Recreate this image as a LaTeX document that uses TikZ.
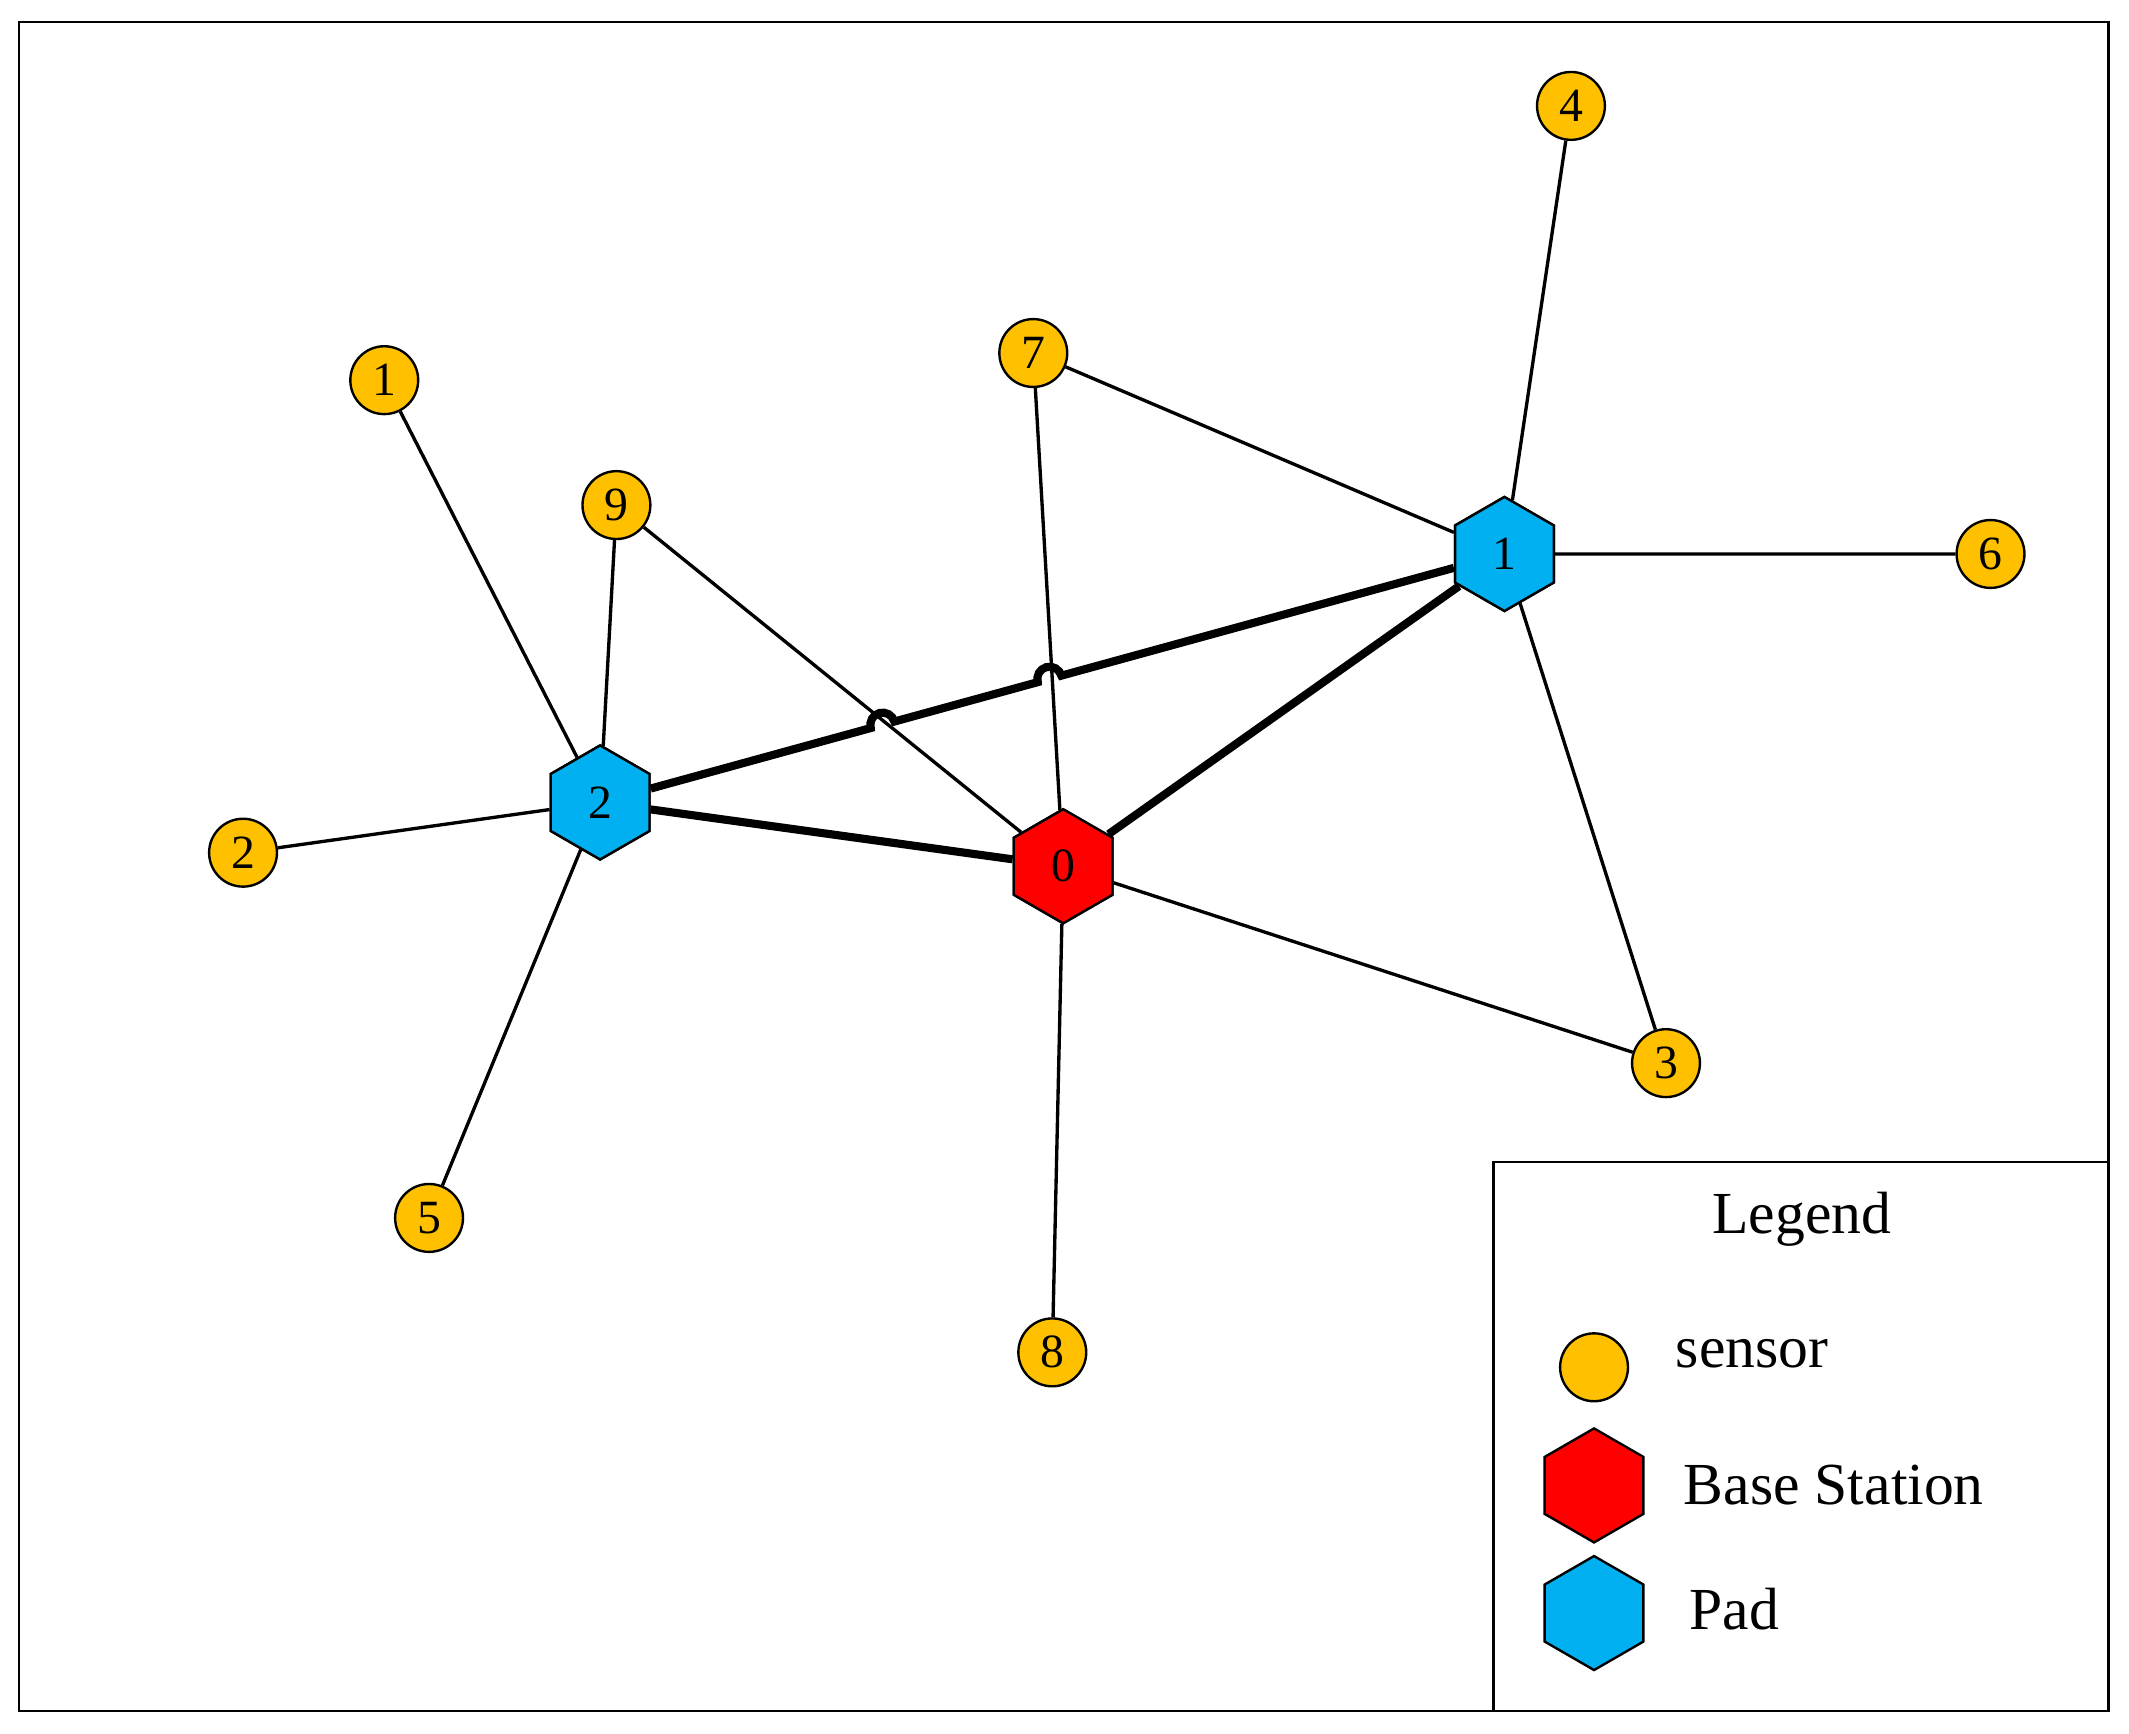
\documentclass[tikz,border=0pt]{standalone}
\usepackage{fontspec}
\setmainfont{Liberation Serif}
\usetikzlibrary{shapes.geometric}
\definecolor{sens}{HTML}{FFC000}
\definecolor{pad}{HTML}{00B0F0}
\begin{document}
\begin{tikzpicture}[x=0.02cm,y=-0.02cm,
  sensor/.style={circle,draw,fill=sens,minimum size=1cm,inner sep=0pt,line width=1pt,font=\fontsize{20}{20}\selectfont},
  hex/.style={regular polygon,regular polygon sides=6,shape border rotate=30,draw,minimum size=1.68cm,inner sep=0pt,line width=1pt,font=\fontsize{20}{20}\selectfont},
  thin/.style={line width=1.4pt},
  thick/.style={line width=3.4pt},
  lab/.style={font=\fontsize{25}{25}\selectfont,anchor=west}]
\useasboundingbox (0,0) rectangle (1568,1277);
\draw[line width=1pt] (14,16) rectangle (1553,1260);
\draw[line width=1pt] (1100,1260) -- (1100,856) -- (1553,856);
% nodes
\node[hex,fill=red] (n0) at (783,638) {0};
\node[hex,fill=pad] (n1) at (1108,408) {1};
\node[hex,fill=pad] (n2) at (442,591) {2};
\node[sensor] (s1) at (283,280) {1};
\node[sensor] (s2) at (179,628) {2};
\node[sensor] (s3) at (1227,783) {3};
\node[sensor] (s4) at (1157,78) {4};
\node[sensor] (s5) at (316,897) {5};
\node[sensor] (s6) at (1466,408) {6};
\node[sensor] (s7) at (761,260) {7};
\node[sensor] (s8) at (775,996) {8};
\node[sensor] (s9) at (454,372) {9};
% thin edges
\begin{scope}[on background layer/.style={}]
\end{scope}
\draw[thin] (n2) -- (s1);
\draw[thin] (n2) -- (s9);
\draw[thin] (n2) -- (s2);
\draw[thin] (n2) -- (s5);
\draw[thin] (s9) -- (n0);
\draw[thin] (s7) -- (n0);
\draw[thin] (s8) -- (n0);
\draw[thin] (n0) -- (s3);
\draw[thin] (n1) -- (s7);
\draw[thin] (n1) -- (s4);
\draw[thin] (n1) -- (s6);
\draw[thin] (n1) -- (s3);
% thick edges
\draw[thick] (n2) -- (n0);
\draw[thick] (n0) -- (n1);
\coordinate (h1a) at (641.3,536.2);
\coordinate (h2a) at (764.3,502.4);
\draw[thick] (n2) -- (h1a) arc[start angle=164.6,end angle=344.6,radius=9]
  -- (h2a) arc[start angle=164.6,end angle=344.6,radius=9] -- (n1);
% redraw nodes on top
\node[hex,fill=red] at (783,638) {0};
\node[hex,fill=pad] at (1108,408) {1};
\node[hex,fill=pad] at (442,591) {2};
% legend
\node[font=\fontsize{25}{25}\selectfont] (lt) at (1327,898) {Legend};
\node[sensor] (ls) at (1174,1007) {};
\node[hex,fill=red] (lb) at (1174,1094) {};
\node[hex,fill=pad] (lp) at (1174,1188) {};
\node[lab] (t1) at (1228,997) {sensor};
\node[lab] (t2) at (1234,1094) {Base Station};
\node[lab] (t3) at (1238,1185) {Pad};
\end{tikzpicture}
\end{document}
